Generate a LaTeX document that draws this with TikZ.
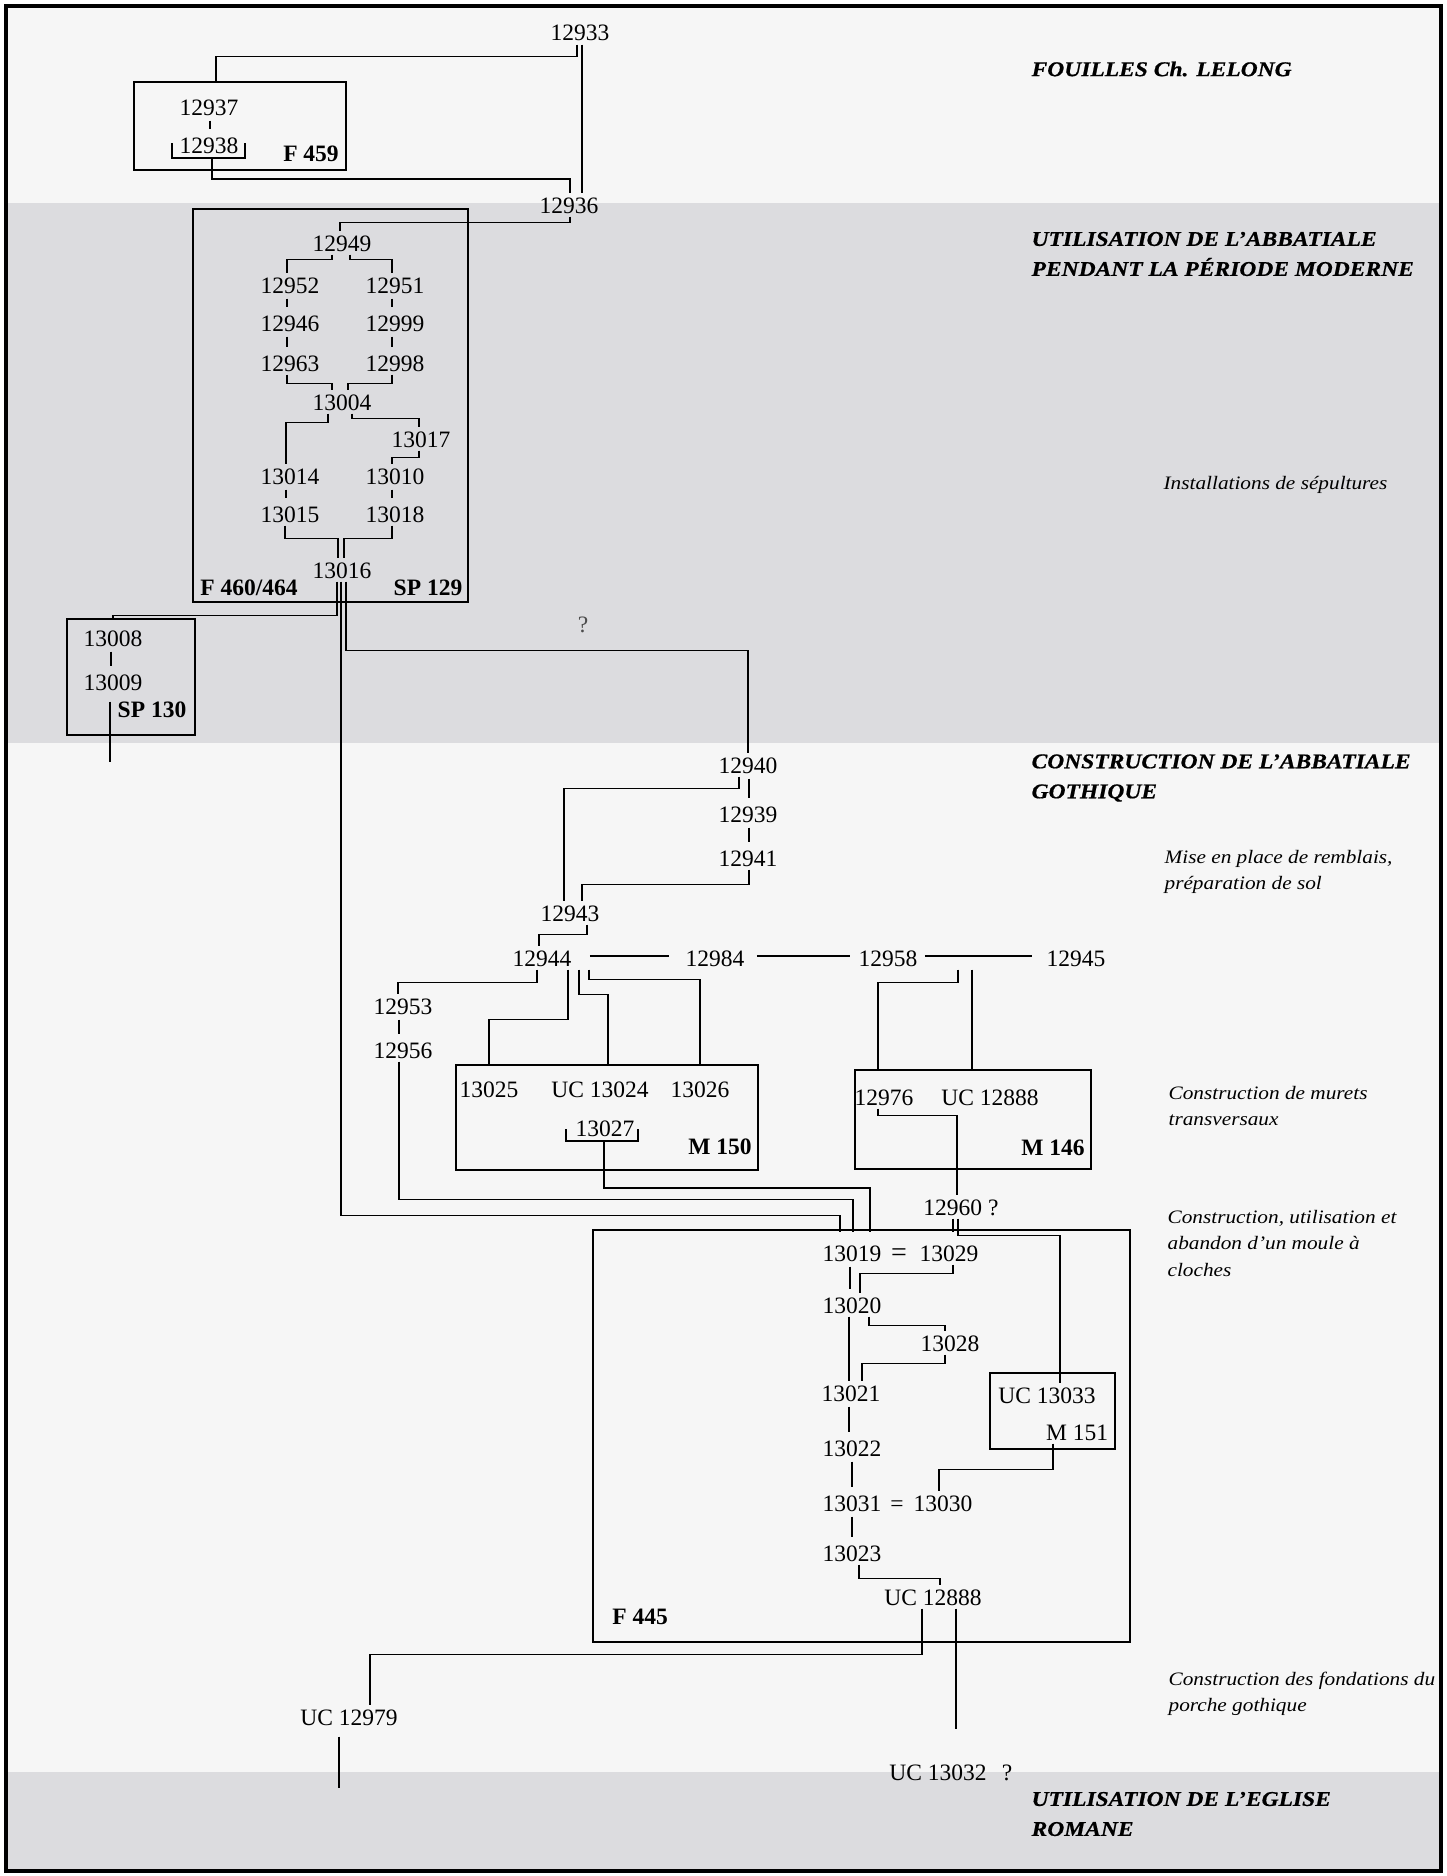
\documentclass[tikz,border=0pt]{standalone}
\usepackage{fontspec}
\setmainfont{Liberation Serif}
\newfontfamily\headfont[FakeStretch=1.12,FakeBold=0.6]{Liberation Serif}
\newfontfamily\notefont[FakeStretch=1.12]{Liberation Serif}
\usepackage{xcolor}
\definecolor{bandgray}{RGB}{220,220,223}
\definecolor{bandwhite}{RGB}{246,246,246}

\begin{document}
\begin{tikzpicture}[x=1pt, y=-1pt, line width=1.2pt,
    uc/.style={font=\fontsize{23.5}{26}\selectfont, inner xsep=1pt, inner ysep=3pt, text height=16pt, text depth=0pt},
    tag/.style={font=\fontsize{23.5}{26}\selectfont\bfseries, inner sep=0pt},
    box/.style={draw, inner sep=0pt},
    link/.style={shorten <=2pt, shorten >=4pt},
    head/.style={font=\headfont\bfseries\itshape\fontsize{21}{30}\selectfont, anchor=west, align=left, inner sep=0pt},
    note/.style={font=\notefont\itshape\fontsize{19}{26.5}\selectfont, anchor=west, align=left, inner sep=0pt}]
    \useasboundingbox (0,0) rectangle (1447,1876);

    % bandes de periodes
    \fill[white] (0,0) rectangle (1447,1876);
    \fill[bandwhite] (6,6) rectangle (1441,203);
    \fill[bandgray] (6,203) rectangle (1441,743);
    \fill[bandwhite] (6,743) rectangle (1441,1772);
    \fill[bandgray] (6,1772) rectangle (1441,1871);
    \draw[line width=3.5pt] (6,6) rectangle (1441,1871);

    % titres et commentaires
    \node[head] (hlelong) at (1031,69) {FOUILLES Ch. LELONG};
    \node[head] (hmoderne) at (1031,254) {UTILISATION DE L’ABBATIALE\\PENDANT LA PÉRIODE MODERNE};
    \node[note] (tsepult) at (1163,485) {Installations de sépultures};
    \node[head] (hgothique) at (1031,778) {CONSTRUCTION DE L’ABBATIALE\\GOTHIQUE};
    \node[note] (tremblais) at (1164,872) {Mise en place de remblais,\\préparation de sol};
    \node[note] (tmurets) at (1168,1106) {Construction de murets\\transversaux};
    \node[note] (tmoule) at (1167,1243) {Construction, utilisation et\\abandon d’un moule à\\cloches};
    \node[note] (tporche) at (1168,1694) {Construction des fondations du\\porche gothique};
    \node[head] (hromane) at (1031,1814) {UTILISATION DE L’EGLISE\\ROMANE};

    % F 459
    \node[box, minimum width=212pt, minimum height=88pt] (f459) at (240,126) {};
    \node[uc] (n12933) at (580,33) {12933};
    \node[uc] (n12937) at (209,107) {12937};
    \node[uc] (n12938) at (209,145) {12938};
    \node[tag] (f459lbl) at (311,154) {F 459};
    \node[uc] (n12936) at (569,205) {12936};
    \draw ([xshift=-3pt]n12933.south) -- ++(0,12) -| ([xshift=7pt]n12937.north |- f459.north);
    \draw ([xshift=2pt]n12933.south) -- ([xshift=13pt]n12936.north);
    \draw[link] ([xshift=1pt]n12937.south) -- ([xshift=1pt]n12938.north);
    \draw ([xshift=-37pt,yshift=2pt]n12938.center) -- ++(0,15) -| ([xshift=36pt,yshift=2pt]n12938.center);
    \draw ([xshift=3pt,yshift=-13pt]n12938.center) -- ++(0,21) -| ([xshift=1pt]n12936.north);

    % F 460/464 - SP 129
    \node[box, minimum width=275pt, minimum height=393pt] (f460) at (330.5,405.5) {};
    \node[uc] (n12949) at (342,243) {12949};
    \node[uc] (n12952) at (290,285) {12952};
    \node[uc] (n12951) at (395,285) {12951};
    \node[uc] (n12946) at (290,323) {12946};
    \node[uc] (n12999) at (395,323) {12999};
    \node[uc] (n12963) at (290,363) {12963};
    \node[uc] (n12998) at (395,363) {12998};
    \node[uc] (n13004) at (342,402) {13004};
    \node[uc] (n13017) at (421,439) {13017};
    \node[uc] (n13014) at (290,476) {13014};
    \node[uc] (n13010) at (395,476) {13010};
    \node[uc] (n13015) at (290,514) {13015};
    \node[uc] (n13018) at (395,514) {13018};
    \node[uc] (n13016) at (342,570) {13016};
    \node[tag] (f460lbl) at (249,588) {F 460/464};
    \node[tag] (sp129lbl) at (428,588) {SP 129};
    \draw ([xshift=1pt]n12936.south) -- ++(0,6) -| ([xshift=-2pt]n12949.north);
    \draw ([xshift=-10pt]n12949.south) -- ++(0,5) -| ([xshift=-3pt]n12952.north);
    \draw ([xshift=8pt]n12949.south) -- ++(0,5) -| ([xshift=-3pt]n12951.north);
    \draw[link] ([xshift=-3pt]n12952.south) -- ([xshift=-3pt]n12946.north);
    \draw[link] ([xshift=-3pt]n12946.south) -- ([xshift=-3pt]n12963.north);
    \draw[link] ([xshift=-3pt]n12951.south) -- ([xshift=-3pt]n12999.north);
    \draw[link] ([xshift=-3pt]n12999.south) -- ([xshift=-3pt]n12998.north);
    \draw ([xshift=-3pt]n12963.south) -- ++(0,9) -| ([xshift=-10pt]n13004.north);
    \draw ([xshift=-3pt]n12998.south) -- ++(0,9) -| ([xshift=6pt]n13004.north);
    \draw ([xshift=-14pt]n13004.south) -- ++(0,9) -| ([xshift=-4pt]n13014.north);
    \draw ([xshift=10pt]n13004.south) -- ++(0,5) -| ([xshift=-2pt]n13017.north);
    \draw ([xshift=-2pt]n13017.south) -- ++(0,7) -| ([xshift=-3pt]n13010.north);
    \draw[link] ([xshift=-4pt]n13014.south) -- ([xshift=-4pt]n13015.north);
    \draw[link] ([xshift=-3pt]n13010.south) -- ([xshift=-3pt]n13018.north);
    \draw ([xshift=-5pt]n13015.south) -- ++(0,13) -| ([xshift=-4pt]n13016.north);
    \draw ([xshift=-3pt]n13018.south) -- ++(0,13) -| ([xshift=2pt]n13016.north);

    % SP 130
    \node[box, minimum width=128pt, minimum height=116pt] (sp130) at (131,677) {};
    \node[uc] (n13008) at (113,638) {13008};
    \node[uc] (n13009) at (113,682) {13009};
    \node[tag] (sp130lbl) at (152,710) {SP 130};
    \coordinate (sp130end) at (110,762);
    \draw ([xshift=-5pt]n13016.south) -- ++(0,34) -| (n13008.north |- sp130.north);
    \draw[link] ([xshift=-2pt]n13008.south) -- ([xshift=-2pt]n13009.north);
    \draw ([xshift=-3pt,yshift=-8pt]n13009.south) -- (sp130end);
    \node[uc, text=black!70] (qmark) at (583,624) {?};

    % remblais
    \node[uc] (n12940) at (748,765) {12940};
    \node[uc] (n12939) at (748,814) {12939};
    \node[uc] (n12941) at (748,858) {12941};
    \node[uc] (n12943) at (570,913) {12943};
    \node[uc] (n12944) at (542,958) {12944};
    \node[uc] (n12984) at (715,958) {12984};
    \node[uc] (n12958) at (888,958) {12958};
    \node[uc] (n12945) at (1076,958) {12945};
    \draw ([xshift=4pt]n13016.south) -- ++(0,69) -| (n12940.north);
    \draw[link] ([xshift=1pt]n12940.south) -- ([xshift=1pt]n12939.north);
    \draw[link] ([xshift=1pt]n12939.south) -- ([xshift=1pt]n12941.north);
    \draw ([xshift=-9pt]n12940.south) -- ++(0,12) -| ([xshift=-6pt]n12943.north);
    \draw ([xshift=1pt]n12941.south) -- ++(0,15) -| ([xshift=12pt]n12943.north);
    \draw ([xshift=17pt]n12943.south) -- ++(0,10) -| ([xshift=-3pt]n12944.north);
    \draw[shorten <=17pt, shorten >=15pt] ([yshift=2pt]n12944.east) -- ([yshift=2pt]n12984.west);
    \draw[shorten <=11pt, shorten >=7pt] ([yshift=2pt]n12984.east) -- ([yshift=2pt]n12958.west);
    \draw[shorten <=6pt, shorten >=13pt] ([yshift=2pt]n12958.east) -- ([yshift=2pt]n12945.west);

    % 12953 - 12956
    \node[uc] (n12953) at (403,1006) {12953};
    \node[uc] (n12956) at (403,1050) {12956};
    \draw ([xshift=-5pt]n12944.south) -- ++(0,13) -| ([xshift=-5pt]n12953.north);
    \draw[link] ([xshift=-4pt]n12953.south) -- ([xshift=-4pt]n12956.north);

    % M 150
    \node[box, minimum width=302pt, minimum height=105pt] (m150) at (607,1117.5) {};
    \node[uc] (n13025) at (489,1089) {13025};
    \node[uc] (n13024) at (600,1089) {UC 13024};
    \node[uc] (n13026) at (700,1089) {13026};
    \node[uc] (n13027) at (605,1128) {13027};
    \node[tag] (m150lbl) at (720,1147) {M 150};
    \draw ([xshift=26pt]n12944.south) -- ++(0,50) -| (n13025.north |- m150.north);
    \draw ([xshift=37pt]n12944.south) -- ++(0,25) -| ([xshift=8pt]n13024.north |- m150.north);
    \draw ([xshift=47pt]n12944.south) -- ++(0,10) -| (n13026.north |- m150.north);
    \draw ([xshift=-39pt,yshift=-1pt]n13027.center) -- ++(0,12) -| ([xshift=33pt,yshift=-1pt]n13027.center);

    % M 146
    \node[box, minimum width=236pt, minimum height=99pt] (m146) at (973,1119.5) {};
    \node[uc] (n12976) at (884,1097) {12976};
    \node[uc] (n12888a) at (990,1097) {UC 12888};
    \node[tag] (m146lbl) at (1053,1148) {M 146};
    \node[uc] (n12960) at (961,1207) {12960 ?};
    \draw ([xshift=70pt]n12958.south) -- ++(0,13) -| ([xshift=-6pt]n12976.north |- m146.north);
    \draw ([xshift=84pt]n12958.south) -- ([xshift=-18pt]n12888a.north |- m146.north);
    \draw ([xshift=-6pt]n12976.south) -- ++(0,7) -| ([xshift=-4pt]n12960.north);

    % F 445 - moule a cloches
    \node[box, minimum width=537pt, minimum height=412pt] (f445) at (861.5,1436) {};
    \node[uc] (n13019) at (852,1253) {13019};
    \node[uc, font=\fontsize{28}{30}\selectfont] (eqa) at (899,1253) {=};
    \node[uc] (n13029) at (949,1253) {13029};
    \node[uc] (n13020) at (852,1305) {13020};
    \node[uc] (n13028) at (950,1343) {13028};
    \node[uc] (n13021) at (851,1393) {13021};
    \node[uc] (n13022) at (852,1448) {13022};
    \node[uc] (n13031) at (852,1503) {13031};
    \node[uc] (eqb) at (897,1503) {=};
    \node[uc] (n13030) at (943,1503) {13030};
    \node[uc] (n13023) at (852,1553) {13023};
    \node[uc] (n12888b) at (933,1597) {UC 12888};
    \node[tag] (f445lbl) at (640,1617) {F 445};
    \node[box, minimum width=125pt, minimum height=76pt] (m151) at (1052.5,1411) {};
    \node[uc] (n13033) at (1047,1395) {UC 13033};
    \node[uc] (m151lbl) at (1077,1432) {M 151};
    \draw ([xshift=-1pt]n13016.south) -- ++(0,634) -| ([xshift=-12pt,yshift=9pt]n13019.north);
    \draw ([xshift=-4pt]n12956.south) -- ++(0,138) -| ([xshift=1pt,yshift=9pt]n13019.north);
    \draw ([xshift=-1pt,yshift=-13pt]n13027.center) -- ++(0,47) -| ([xshift=18pt,yshift=9pt]n13019.north);
    \draw ([xshift=-8pt]n12960.south) -- ([xshift=4pt,yshift=9pt]n13029.north);
    \draw ([xshift=-3pt]n12960.south) -- ++(0,17) -| ([xshift=13pt]n13033.north);
    \draw[link] ([xshift=-2pt]n13019.south) -- ([xshift=-2pt]n13020.north);
    \draw ([xshift=4pt]n13029.south) -- ++(0,9) -| ([xshift=8pt]n13020.north);
    \draw ([xshift=17pt]n13020.south) -- ++(0,9) -| ([xshift=-5pt]n13028.north);
    \draw ([xshift=-3pt]n13020.south) -- ([xshift=-2pt]n13021.north);
    \draw ([xshift=-5pt]n13028.south) -- ++(0,9) -| ([xshift=11pt]n13021.north);
    \draw[link] ([xshift=-2pt]n13021.south) -- ([xshift=-3pt]n13022.north);
    \draw[link] (n13022.south) -- (n13031.north);
    \draw ([xshift=-24pt]m151lbl.south) -- ++(0,26) -| ([xshift=-4pt]n13030.north);
    \draw[link] (n13031.south) -- (n13023.north);
    \draw ([xshift=7pt]n13023.south) -- ++(0,14) -| ([xshift=7pt]n12888b.north);

    % porche gothique
    \node[uc] (n12979) at (349,1717) {UC 12979};
    \node[uc] (n13032) at (938,1772) {UC 13032};
    \node[uc] (q13032) at (1007,1772) {?};
    \coordinate (c12979end) at (339,1788);
    \draw ([xshift=-11pt]n12888b.south) -- ++(0,46) -| ([xshift=21pt]n12979.north);
    \draw[shorten >=31pt] ([xshift=23pt]n12888b.south) -- ([xshift=18pt]n13032.north);
    \draw ([xshift=-10pt,yshift=-8pt]n12979.south) -- (c12979end);
\end{tikzpicture}
\end{document}
